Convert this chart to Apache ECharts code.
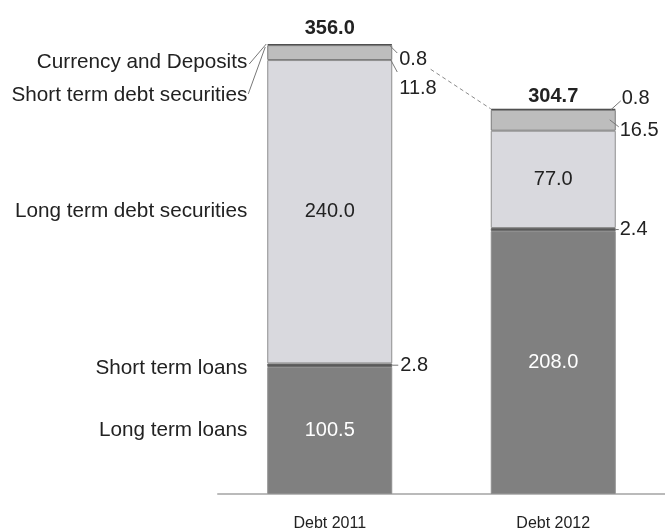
<!DOCTYPE html>
<html>
<head>
<meta charset="utf-8">
<script src="https://cdn.jsdelivr.net/npm/echarts@6/dist/echarts.min.js"></script>
<style>
  html, body { margin: 0; padding: 0; background: #fff; }
  #chart { width: 665px; height: 532px; }
</style>
</head>
<body>
<div id="chart"></div>
<script>
var categories = ['Debt 2011', 'Debt 2012'];
var longTermLoans = [100.5, 208.0];
var shortTermLoans = [2.8, 2.4];
var longTermDebtSec = [240.0, 77.0];
var shortTermDebtSec = [11.8, 16.5];
var currencyDeposits = [0.8, 0.8];
var totals = [356.0, 304.7];
var names = ['Long term loans', 'Short term loans', 'Long term debt securities',
             'Short term debt securities', 'Currency and Deposits'];

var FONT = 'Liberation Sans, Arial, sans-serif';
var TXT = '#222';
var BAR_W = 125;

var myChart = echarts.init(document.getElementById('chart'));

function fmt(v) { return v.toFixed(1); }

function txt(s, x, y, align, opts) {
  opts = opts || {};
  return {
    type: 'text',
    style: {
      text: s, x: x, y: y,
      fill: opts.fill || TXT,
      fontSize: opts.size || 20,
      fontFamily: FONT,
      fontWeight: opts.bold ? 'bold' : 'normal',
      align: align,
      verticalAlign: opts.va || 'middle'
    }
  };
}
function seg(x1, y1, x2, y2, dash) {
  return {
    type: 'line',
    shape: { x1: x1, y1: y1, x2: x2, y2: y2 },
    style: { stroke: dash ? '#8a8a8a' : '#777', lineWidth: 1, lineDash: dash ? [4, 3] : null }
  };
}

// labels, leader lines, totals, connector
function renderNotes(params, api) {
  var i = params.dataIndex;
  var c0 = longTermLoans[i];
  var c1 = c0 + shortTermLoans[i];
  var c2 = c1 + longTermDebtSec[i];
  var c3 = c2 + shortTermDebtSec[i];
  var cx = api.coord([i, 0])[0];
  var xr = cx + BAR_W / 2, xl = cx - BAR_W / 2;
  var y = function (v) { return api.coord([i, v])[1]; };
  var yTop = y(totals[i]);
  var kids = [];
  var nm = { size: 20.7 };

  kids.push(txt(fmt(totals[i]), cx, yTop - (i === 0 ? 6 : 2), 'center', { bold: true, va: 'bottom' }));

  if (i === 0) {
    // names on the left
    kids.push(txt(names[0], xl - 20, y(c0 / 2), 'right', nm));
    kids.push(txt(names[1], xl - 20, y((c0 + c1) / 2) + 3, 'right', nm));
    kids.push(txt(names[2], xl - 20, y((c1 + c2) / 2), 'right', nm));
    kids.push(txt(names[3], xl - 20, yTop + 51, 'right', nm));
    kids.push(txt(names[4], xl - 20, yTop + 18, 'right', nm));
    kids.push(seg(xl - 18, yTop + 20, xl - 1, yTop));
    kids.push(seg(xl - 19, yTop + 50, xl - 2, yTop + 3));
    // values on the right
    kids.push(txt(fmt(currencyDeposits[i]), xr + 7, yTop + 15, 'left'));
    kids.push(seg(xr - 3, yTop + 1, xr + 5, yTop + 9));
    kids.push(txt(fmt(shortTermDebtSec[i]), xr + 7, yTop + 44, 'left'));
    kids.push(seg(xr - 2, y(c2) - 1, xr + 5, yTop + 28));
    var ys = y((c0 + c1) / 2);
    kids.push(txt(fmt(shortTermLoans[i]), xr + 8, ys, 'left'));
    kids.push(seg(xr, ys, xr + 6, ys));
    // dashed connector to next bar top
    var nx = api.coord([1, 0])[0] - BAR_W / 2, ny = api.coord([1, totals[1]])[1];
    var t = 0.39;
    kids.push(seg(xr + (nx - xr) * t, yTop + (ny - yTop) * t, nx, ny, true));
  } else {
    kids.push(txt(fmt(currencyDeposits[i]), xr + 6, yTop - 10, 'left'));
    kids.push(seg(xr - 5, yTop + 1, xr + 5, yTop - 8));
    kids.push(txt(fmt(shortTermDebtSec[i]), xr + 4, yTop + 22, 'left'));
    kids.push(seg(xr - 6, yTop + 11, xr + 3, yTop + 18));
    var ys2 = y((c0 + c1) / 2);
    kids.push(txt(fmt(shortTermLoans[i]), xr + 4, ys2, 'left'));
    kids.push(seg(xr, ys2, xr + 3, ys2));
  }
  return { type: 'group', children: kids };
}

function barSeries(name, data, color, border, label) {
  return {
    name: name,
    type: 'bar',
    stack: 'debt',
    barWidth: BAR_W,
    data: data,
    itemStyle: { color: color, borderColor: border, borderWidth: 1 },
    label: label || { show: false },
    silent: true
  };
}

option = {
  animation: false,
  grid: { left: 218, right: -3, top: 44, bottom: 36 },
  xAxis: {
    type: 'category',
    data: categories,
    axisLine: { lineStyle: { color: '#bababa', width: 2 } },
    axisTick: { show: false },
    axisLabel: { color: TXT, fontSize: 16, fontFamily: FONT, margin: 22 }
  },
  yAxis: {
    type: 'value',
    min: 0,
    max: 356,
    show: false
  },
  series: [
    barSeries(names[0], longTermLoans, '#808080', '#8e8e8e', {
      show: true, position: 'inside', color: '#fff', fontSize: 20, fontFamily: FONT,
      formatter: function (p) { return fmt(p.value); }
    }),
    barSeries(names[1], shortTermLoans, '#5a5a5a', '#6a6a6a'),
    barSeries(names[2], longTermDebtSec, '#d9d9de', '#8e8e8e', {
      show: true, position: 'inside', color: TXT, fontSize: 20, fontFamily: FONT,
      formatter: function (p) { return fmt(p.value); }
    }),
    barSeries(names[3], shortTermDebtSec, '#bdbdbd', '#7a7a7a'),
    barSeries(names[4], currencyDeposits, '#4d4d4d', '#4d4d4d'),
    {
      type: 'custom',
      silent: true,
      z: 10,
      clip: false,
      renderItem: renderNotes,
      data: totals.map(function (t, i) { return [i, t]; })
    }
  ]
};

myChart.setOption(option);
</script>
</body>
</html>
